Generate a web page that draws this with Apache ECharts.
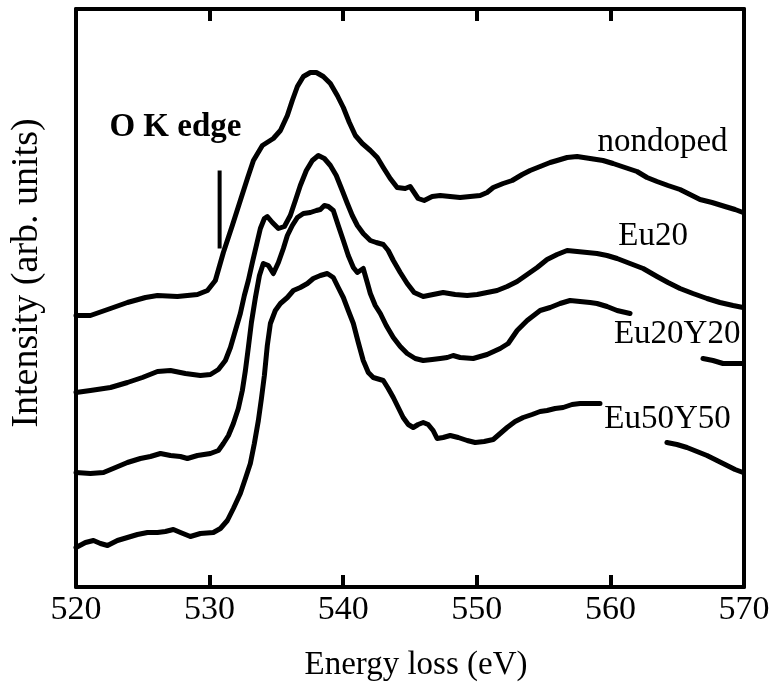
<!DOCTYPE html>
<html>
<head>
<meta charset="utf-8">
<script src="https://cdn.jsdelivr.net/npm/echarts@6/dist/echarts.min.js"></script>
<style>
html,body{margin:0;padding:0;background:#fff;}
#chart{width:773px;height:683px;}
</style>
</head>
<body>
<div id="chart"></div>
<script>
// Energy loss (eV) / intensity (arb. units) pairs
const xTicks = [520, 530, 540, 550, 560, 570];

const nondoped = [
[520.0,2.715],[521.08,2.715],[522.58,2.785],[523.85,2.845],[525.2,2.895],[526.1,2.915],[527.59,2.905],[529.09,2.925],
[529.84,2.965],[530.43,3.065],[531.03,3.345],[531.7,3.615],[532.3,3.865],[532.83,4.085],[533.28,4.265],[533.95,4.415],
[534.77,4.485],[535.3,4.565],[535.82,4.715],[536.19,4.865],[536.57,5.005],[537.02,5.105],[537.54,5.145],[537.99,5.145],
[538.51,5.105],[539.04,5.035],[539.56,4.915],[540.01,4.795],[540.46,4.645],[540.91,4.515],[541.43,4.435],[542.03,4.365],
[542.55,4.295],[543.0,4.195],[543.52,4.085],[544.04,3.995],[544.64,3.985],[545.01,4.005],[545.31,3.945],[545.61,3.885],
[546.06,3.865],[546.66,3.905],[547.26,3.915],[548.0,3.905],[548.75,3.895],[549.5,3.905],[550.25,3.915],[550.77,3.945],
[551.23,3.995],[551.97,4.035],[552.65,4.065],[553.4,4.125],[553.99,4.165],[554.74,4.205],[555.49,4.245],[556.01,4.265],
[556.76,4.295],[557.51,4.305],[558.48,4.285],[559.45,4.265],[560.2,4.235],[561.09,4.195],[561.99,4.155],[562.74,4.095],
[563.49,4.055],[564.31,4.015],[565.21,3.975],[565.96,3.925],[566.71,3.875],[567.61,3.845],[568.58,3.805],[569.33,3.775],
[569.93,3.745]
];

const eu20 = [
[520.0,1.945],[521.08,1.965],[522.58,1.995],[523.85,2.045],[524.97,2.095],[526.1,2.155],[527.07,2.165],[528.19,2.135],
[529.31,2.115],[530.06,2.125],[530.66,2.175],[531.18,2.265],[531.56,2.395],[531.93,2.565],[532.3,2.735],[532.6,2.915],
[532.9,3.065],[533.2,3.245],[533.5,3.415],[533.8,3.585],[534.1,3.685],[534.32,3.705],[534.7,3.645],[535.15,3.585],
[535.6,3.605],[536.04,3.715],[536.42,3.865],[536.79,4.015],[537.24,4.165],[537.69,4.265],[538.14,4.315],[538.59,4.285],
[539.04,4.215],[539.48,4.115],[539.93,3.965],[540.31,3.835],[540.68,3.715],[541.06,3.615],[541.5,3.535],[542.03,3.465],
[542.47,3.445],[543.0,3.425],[543.37,3.365],[543.75,3.265],[544.27,3.145],[544.79,3.035],[545.31,2.945],[545.99,2.905],
[546.73,2.925],[547.48,2.945],[548.38,2.925],[549.28,2.915],[550.03,2.925],[550.77,2.945],[551.52,2.965],[552.27,3.005],
[553.02,3.055],[553.77,3.125],[554.52,3.195],[555.26,3.275],[556.01,3.325],[556.76,3.365],[557.51,3.355],[558.26,3.345],
[559.0,3.335],[559.75,3.315],[560.5,3.285],[561.47,3.235],[562.45,3.185],[563.49,3.105],[564.31,3.045],[565.21,2.985],
[566.18,2.935],[567.23,2.885],[568.2,2.845],[569.18,2.815],[569.93,2.795]
];

const eu20y20 = [
[520.0,1.145],[521.08,1.135],[522.06,1.145],[522.96,1.195],[523.85,1.245],[524.82,1.285],[525.57,1.305],[526.32,1.335],
[527.07,1.315],[527.81,1.305],[528.34,1.285],[529.09,1.315],[530.06,1.335],[530.66,1.365],[531.03,1.435],[531.41,1.515],
[531.78,1.635],[532.15,1.785],[532.45,1.965],[532.68,2.165],[532.9,2.395],[533.13,2.645],[533.43,2.895],[533.73,3.115],
[534.02,3.235],[534.4,3.215],[534.77,3.135],[535.15,3.245],[535.52,3.385],[535.82,3.515],[536.19,3.615],[536.57,3.695],
[537.02,3.735],[537.54,3.745],[537.99,3.765],[538.29,3.775],[538.59,3.815],[538.89,3.805],[539.26,3.765],[539.63,3.615],
[540.01,3.465],[540.38,3.315],[540.76,3.195],[541.06,3.145],[541.28,3.165],[541.5,3.185],[541.8,3.045],[542.03,2.935],
[542.4,2.815],[542.78,2.735],[543.22,2.615],[543.75,2.495],[544.27,2.405],[544.79,2.335],[545.39,2.285],[545.99,2.265],
[546.66,2.275],[547.26,2.285],[547.79,2.295],[548.23,2.315],[548.75,2.295],[549.73,2.285],[550.77,2.325],[551.75,2.385],
[552.35,2.435],[553.02,2.565],[553.77,2.665],[554.74,2.765],[555.49,2.795],[556.23,2.835],[556.98,2.865],[557.73,2.855],
[558.48,2.845],[559.0,2.835],[559.75,2.805],[560.5,2.765],[561.47,2.735],
[564.0,null],
[566.93,2.285],[567.68,2.265],[568.43,2.235],[569.18,2.235],[569.93,2.235]
];

const eu50y50 = [
[520.0,0.395],[520.71,0.445],[521.31,0.465],[521.83,0.435],[522.36,0.415],[523.1,0.465],[523.85,0.495],[524.6,0.525],
[525.35,0.545],[526.1,0.545],[526.69,0.555],[527.29,0.575],[527.82,0.545],[528.56,0.505],[529.31,0.535],[530.28,0.545],
[530.81,0.585],[531.33,0.665],[531.78,0.785],[532.3,0.935],[532.68,1.085],[533.05,1.235],[533.35,1.435],[533.65,1.665],
[533.88,1.885],[534.1,2.115],[534.32,2.415],[534.55,2.635],[534.92,2.765],[535.3,2.835],[535.82,2.895],[536.27,2.965],
[536.79,2.995],[537.32,3.035],[537.76,3.085],[538.29,3.115],[538.81,3.135],[539.26,3.095],[539.63,2.995],[540.01,2.895],
[540.38,2.765],[540.76,2.635],[541.13,2.445],[541.5,2.265],[541.88,2.145],[542.25,2.095],[543.0,2.065],[543.37,1.985],
[543.75,1.895],[544.12,1.795],[544.49,1.695],[544.87,1.625],[545.24,1.595],[545.61,1.625],[545.99,1.645],[546.36,1.625],
[546.73,1.565],[547.03,1.485],[547.48,1.495],[548.01,1.515],[548.61,1.495],[549.28,1.465],[549.88,1.445],[550.55,1.455],
[551.23,1.475],[551.75,1.535],[552.27,1.595],[552.87,1.655],[553.47,1.695],[554.14,1.725],[554.74,1.755],[555.26,1.765],
[555.86,1.785],[556.46,1.795],[557.13,1.825],[557.73,1.835],[558.48,1.835],[559.22,1.835],
[562.0,null],
[564.23,1.445],[564.98,1.425],[565.73,1.395],[566.48,1.355],[567.23,1.315],[567.98,1.265],[568.73,1.215],[569.33,1.175],
[569.93,1.145]
];

// O K edge marker (vertical bar)
const edgeMarker = [[530.75,4.165],[530.75,3.385]];

// curve labels: [text, energy, intensity, weight]
const curveLabels = [
  ['nondoped', 563.9, 4.445, 'normal'],
  ['Eu20', 563.2, 3.505, 'normal'],
  ['Eu20Y20', 565.0, 2.525, 'normal'],
  ['Eu50Y50', 564.28, 1.675, 'normal'],
  ['O K edge', 527.44, 4.595, 'bold']
];

const FONT = '"Liberation Serif", "Times New Roman", serif';
const chart = echarts.init(document.getElementById('chart'), null, {renderer:'canvas'});

function curve(name, data) {
  return {
    name: name, type: 'line', data: data, showSymbol: false, connectNulls: false,
    lineStyle: {color: '#000', width: 5, cap: 'round', join: 'round'},
    animation: false, z: 3
  };
}

const option = {
  backgroundColor: '#fff',
  animation: false,
  grid: {left: 76, right: 29, top: 9, bottom: 96, containLabel: false, outerBoundsMode: 'none'},
  xAxis: [
    {
      type: 'value', min: 520, max: 570, interval: 10, position: 'bottom',
      name: 'Energy loss (eV)', nameLocation: 'middle', nameGap: 62,
      nameTextStyle: {fontFamily: FONT, fontSize: 33, color: '#000', padding: [0, 0, 0, 12]},
      axisLine: {show: true, onZero: false, lineStyle: {color: '#000', width: 4}},
      axisTick: {show: true, inside: true, length: 12, lineStyle: {color: '#000', width: 4}},
      axisLabel: {show: true, fontFamily: FONT, fontSize: 34, color: '#000', margin: 6,
        formatter: v => xTicks.includes(v) ? String(v) : ''},
      splitLine: {show: false}
    },
    {
      type: 'value', min: 520, max: 570, interval: 10, position: 'top',
      axisLine: {show: true, onZero: false, lineStyle: {color: '#000', width: 4}},
      axisTick: {show: true, inside: true, length: 12, lineStyle: {color: '#000', width: 4}},
      axisLabel: {show: false}, splitLine: {show: false}
    }
  ],
  yAxis: [
    {
      type: 'value', min: 0, max: 5.78, position: 'left',
      name: 'Intensity (arb. units)', nameLocation: 'middle', nameGap: 30, nameRotate: 90,
      nameTextStyle: {fontFamily: FONT, fontSize: 38, color: '#000', padding: [0, 0, 0, 50]},
      axisLine: {show: true, onZero: false, lineStyle: {color: '#000', width: 4}},
      axisTick: {show: false}, axisLabel: {show: false}, splitLine: {show: false}
    },
    {
      type: 'value', min: 0, max: 5.78, position: 'right',
      axisLine: {show: true, onZero: false, lineStyle: {color: '#000', width: 4}},
      axisTick: {show: false}, axisLabel: {show: false}, splitLine: {show: false}
    }
  ],
  series: [
    curve('nondoped', nondoped),
    curve('Eu20', eu20),
    curve('Eu20Y20', eu20y20),
    curve('Eu50Y50', eu50y50),
    {
      name: 'edge', type: 'line', data: edgeMarker, showSymbol: false,
      lineStyle: {color: '#000', width: 4}, animation: false
    },
    {
      name: 'labels', type: 'scatter', symbolSize: 0, animation: false, z: 5,
      itemStyle: {opacity: 1},
      data: curveLabels.map(l => ({value: [l[1], l[2]], name: l[0],
        label: {fontWeight: l[3]}})),
      label: {
        show: true, position: 'inside', color: '#000', opacity: 1,
        fontFamily: FONT, fontSize: 33, formatter: p => p.name
      }
    }
  ]
};
chart.setOption(option);
</script>
</body>
</html>
